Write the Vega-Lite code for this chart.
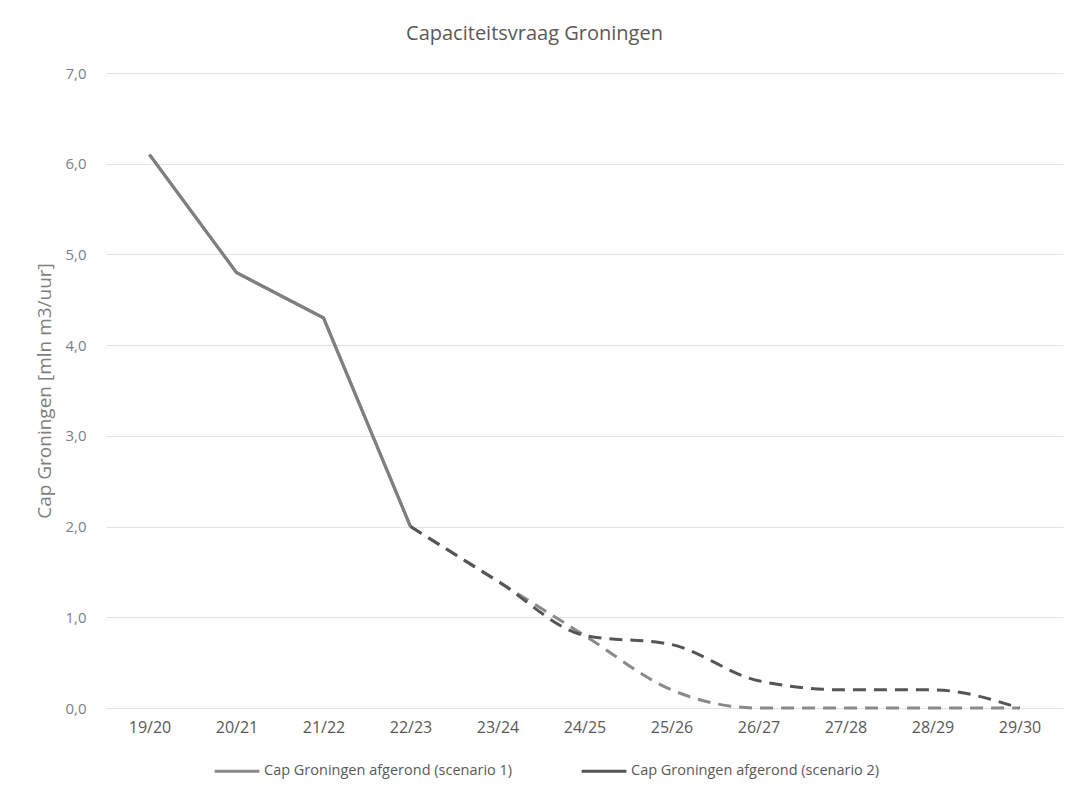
{
  "$schema": "https://vega.github.io/schema/vega-lite/v6.json",
  "autosize": {"type": "none"},
  "width": 957,
  "height": 635,
  "padding": {"left": 106, "top": 73, "right": 10, "bottom": 85},
  "background": "white",
  "title": {
    "text": "Capaciteitsvraag Groningen",
    "font": "Open Sans",
    "fontSize": 20,
    "fontWeight": "normal",
    "color": "#595959",
    "anchor": "middle",
    "dx": -50,
    "offset": 22
  },
  "data": {
    "values": [
      {"series": "Cap Groningen afgerond (scenario 1)", "phase": "solid", "season": "19/20", "value": 6.1},
      {"series": "Cap Groningen afgerond (scenario 1)", "phase": "solid", "season": "20/21", "value": 4.8},
      {"series": "Cap Groningen afgerond (scenario 1)", "phase": "solid", "season": "21/22", "value": 4.3},
      {"series": "Cap Groningen afgerond (scenario 1)", "phase": "solid", "season": "22/23", "value": 2.0},
      {"series": "Cap Groningen afgerond (scenario 1)", "phase": "dashed", "season": "22/23", "value": 2.0},
      {"series": "Cap Groningen afgerond (scenario 1)", "phase": "dashed", "season": "23/24", "value": 1.4},
      {"series": "Cap Groningen afgerond (scenario 1)", "phase": "dashed", "season": "24/25", "value": 0.8},
      {"series": "Cap Groningen afgerond (scenario 1)", "phase": "dashed", "season": "25/26", "value": 0.2},
      {"series": "Cap Groningen afgerond (scenario 1)", "phase": "dashed", "season": "26/27", "value": 0.0},
      {"series": "Cap Groningen afgerond (scenario 1)", "phase": "dashed", "season": "27/28", "value": 0.0},
      {"series": "Cap Groningen afgerond (scenario 1)", "phase": "dashed", "season": "28/29", "value": 0.0},
      {"series": "Cap Groningen afgerond (scenario 1)", "phase": "dashed", "season": "29/30", "value": 0.0},
      {"series": "Cap Groningen afgerond (scenario 2)", "phase": "solid", "season": "19/20", "value": 6.1},
      {"series": "Cap Groningen afgerond (scenario 2)", "phase": "solid", "season": "20/21", "value": 4.8},
      {"series": "Cap Groningen afgerond (scenario 2)", "phase": "solid", "season": "21/22", "value": 4.3},
      {"series": "Cap Groningen afgerond (scenario 2)", "phase": "solid", "season": "22/23", "value": 2.0},
      {"series": "Cap Groningen afgerond (scenario 2)", "phase": "dashed", "season": "22/23", "value": 2.0},
      {"series": "Cap Groningen afgerond (scenario 2)", "phase": "dashed", "season": "23/24", "value": 1.4},
      {"series": "Cap Groningen afgerond (scenario 2)", "phase": "dashed", "season": "24/25", "value": 0.8},
      {"series": "Cap Groningen afgerond (scenario 2)", "phase": "dashed", "season": "25/26", "value": 0.7},
      {"series": "Cap Groningen afgerond (scenario 2)", "phase": "dashed", "season": "26/27", "value": 0.3},
      {"series": "Cap Groningen afgerond (scenario 2)", "phase": "dashed", "season": "27/28", "value": 0.2},
      {"series": "Cap Groningen afgerond (scenario 2)", "phase": "dashed", "season": "28/29", "value": 0.2},
      {"series": "Cap Groningen afgerond (scenario 2)", "phase": "dashed", "season": "29/30", "value": 0.0}
    ]
  },
  "encoding": {
    "x": {
      "field": "season",
      "type": "ordinal",
      "sort": ["19/20", "20/21", "21/22", "22/23", "23/24", "24/25", "25/26", "26/27", "27/28", "28/29", "29/30"],
      "scale": {"type": "point", "padding": 0.5},
      "axis": {
        "title": null,
        "labelAngle": 0,
        "domain": false,
        "ticks": false,
        "grid": false,
        "labelFont": "Open Sans",
        "labelFontSize": 16,
        "labelColor": "#595959",
        "labelPadding": 11
      }
    },
    "y": {
      "field": "value",
      "type": "quantitative",
      "scale": {"domain": [0, 7]},
      "axis": {
        "values": [0, 1, 2, 3, 4, 5, 6, 7],
        "labelExpr": "replace(format(datum.value, '.1f'), '.', ',')",
        "title": "Cap Groningen [mln m3/uur]",
        "titleFont": "Open Sans",
        "titleFontSize": 19,
        "titleFontWeight": "normal",
        "titleColor": "#7f7f7f",
        "titlePadding": 10,
        "labelFont": "Open Sans",
        "labelFontSize": 15,
        "labelColor": "#7f7f7f",
        "labelPadding": 20,
        "domain": false,
        "ticks": false,
        "grid": true,
        "gridColor": "#e3e3e3",
        "gridWidth": 1.2
      }
    }
  },
  "layer": [
    {
      "transform": [{"filter": "datum.phase === 'solid'"}],
      "mark": {"type": "line", "strokeWidth": 3, "color": "#7f7f7f", "interpolate": "linear"},
      "encoding": {"detail": {"field": "series"}}
    },
    {
      "transform": [{"filter": "datum.phase === 'dashed'"}],
      "mark": {"type": "line", "strokeWidth": 3, "strokeDash": [13, 8], "interpolate": "monotone"},
      "encoding": {
        "color": {
          "field": "series",
          "type": "nominal",
          "scale": {"range": ["#8a8a8a", "#555555"]},
          "legend": {
            "title": null,
            "orient": "none",
            "legendX": 107,
            "legendY": 674,
            "direction": "horizontal",
            "symbolType": "stroke",
            "symbolSize": 2000,
            "symbolStrokeWidth": 3,
            "symbolDash": [],
            "symbolOffset": 0,
            "labelOffset": 3,
            "labelLimit": 0,
            "labelFont": "Open Sans",
            "labelFontSize": 14.5,
            "labelColor": "#595959",
            "columnPadding": 62
          }
        }
      }
    }
  ],
  "config": {"view": {"stroke": null}}
}
